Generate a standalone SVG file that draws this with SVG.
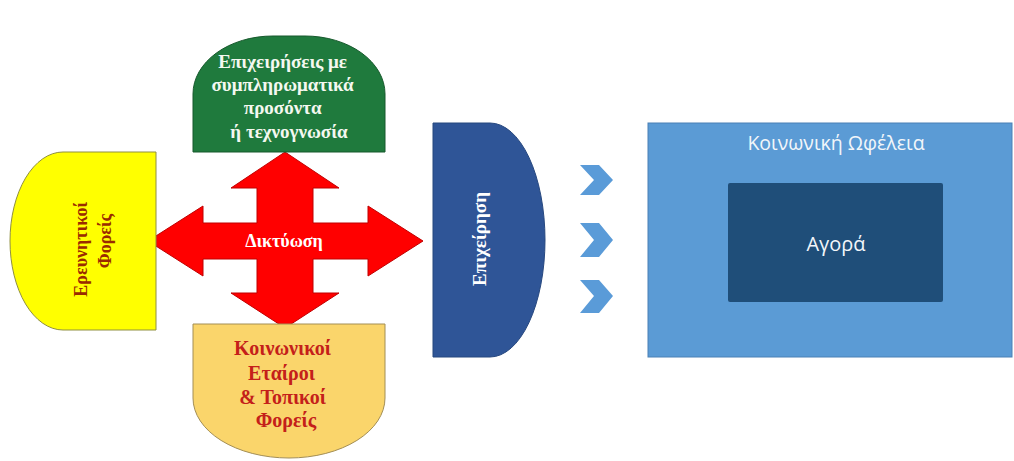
<svg xmlns="http://www.w3.org/2000/svg" width="1014" height="461" viewBox="0 0 1014 461">
<style>
.serif{font-family:"Liberation Serif","DejaVu Serif",serif;font-weight:bold;text-anchor:middle}
.sans{font-family:"Open Sans","Lato","Liberation Sans",sans-serif;text-anchor:middle;fill:#F2F6FA}
.chev{fill:#5A9BD8}
</style>
<rect width="1014" height="461" fill="#FFFFFF"/>
<g id="connectors">
<path id="networking-cross" d="M285,152 L339,188 L313,188 L313,223 L368,223 L368,206 L423,241 L368,276 L368,259 L313,259 L313,293 L339,293 L285,328 L231,293 L257,293 L257,259 L203,259 L203,276 L148,241 L203,206 L203,223 L257,223 L257,188 L231,188 Z" fill="#FF0000" stroke="#C00000" stroke-width="1"/>
<text class="serif" x="284" y="247" font-size="18" fill="#FFFFFF">Δικτύωση</text>
<path class="chev" d="M580,165 L599,165 L613,180 L599,195 L580,195 L594,180 Z"/>
<path class="chev" d="M580,223 L599,223 L613,240 L599,257 L580,257 L594,240 Z"/>
<path class="chev" d="M580,280 L599,280 L613,296 L599,313 L580,313 L594,296 Z"/>
</g>
<g id="node-green">
<path d="M193,152 L193,94 A80,58 0 0 1 273,36 L305,36 A80,58 0 0 1 385,94 L385,152 Z" fill="#1F7A3D" stroke="#16592C" stroke-width="1"/>
<text class="serif" font-size="19" fill="#F4F8F0">
<tspan x="285" y="68">Επιχειρήσεις με</tspan>
<tspan x="285" y="91">συμπληρωματικά</tspan>
<tspan x="285" y="114">προσόντα</tspan>
<tspan x="289" y="138">ή τεχνογνωσία</tspan>
</text>
</g>
<g id="node-yellow">
<path d="M156,152 L63,152 A53,89 0 0 0 63,330 L156,330 Z" fill="#FFFF00" stroke="#8F8F40" stroke-width="1"/>
<text class="serif" font-size="18" fill="#9A2A00" transform="rotate(-90)">
<tspan x="-247" y="87">Ερευνητικοί</tspan>
<tspan x="-241" y="111">Φορείς</tspan>
</text>
</g>
<g id="node-orange">
<path d="M193,324 L193,398 A96,60 0 0 0 385,398 L385,324 Z" fill="#FAD56B" stroke="#A38E55" stroke-width="1"/>
<text class="serif" font-size="20" fill="#C4201A">
<tspan x="285" y="355">Κοινωνικοί</tspan>
<tspan x="284" y="380">Εταίροι</tspan>
<tspan x="285" y="404">&amp; Τοπικοί</tspan>
<tspan x="286" y="427">Φορείς</tspan>
</text>
</g>
<g id="node-business">
<path d="M433,123 L490,123 A55,117 0 0 1 490,357 L433,357 Z" fill="#2F5597" stroke="#27487F" stroke-width="1"/>
<text class="serif" font-size="19" fill="#FFFFFF" transform="rotate(-90)" x="-239" y="486">Επιχείρηση</text>
</g>
<g id="node-social-benefit">
<rect x="648" y="123" width="364" height="234" fill="#5B9BD5" stroke="#4A80B5" stroke-width="1"/>
<text class="sans" x="836" y="150" font-size="19.5">Κοινωνική Ωφέλεια</text>
</g>
<g id="node-market">
<rect x="728" y="183" width="215" height="119" rx="2" fill="#1F4E79"/>
<text class="sans" x="836" y="251" font-size="20">Αγορά</text>
</g>
</svg>
